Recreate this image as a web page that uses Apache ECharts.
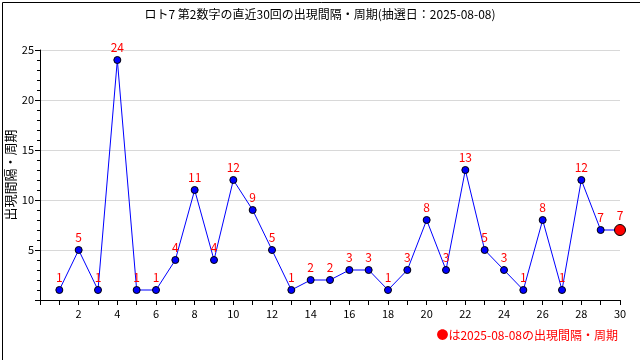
<!DOCTYPE html>
<html><head><meta charset="utf-8">
<script src="https://cdn.jsdelivr.net/npm/echarts@6/dist/echarts.min.js"></script>
<style>html,body{margin:0;padding:0;background:#fff}#c{width:640px;height:360px}</style>
</head><body><div id="c"></div>
<script>
const titleText = 'ロト7 第2数字の直近30回の出現間隔・周期(抽選日：2025-08-08)';
const yName = '出現間隔・周期';
const legendText = '●は2025-08-08の出現間隔・周期';
const draws = [1,2,3,4,5,6,7,8,9,10,11,12,13,14,15,16,17,18,19,20,21,22,23,24,25,26,27,28,29,30];
const intervals = [1,5,1,24,1,1,4,11,4,12,9,5,1,2,2,3,3,1,3,8,3,13,5,3,1,8,1,12,7,7];

const data = draws.map((d,i)=>{
  const last = i === draws.length-1;
  return {value:[d, intervals[i]], symbolSize: last?11:7,
    itemStyle: last?{color:'#ff0000',borderColor:'#000',borderWidth:1}:{color:'#0000ff',borderColor:'#000',borderWidth:1}};
});
const font = '"Noto Sans CJK JP", "DejaVu Sans", sans-serif';
const chart = echarts.init(document.getElementById('c'));
chart.setOption({
  animation:false,
  backgroundColor:'#fff',
  title:{text:titleText,left:'center',top:3,textStyle:{fontSize:12,fontWeight:'normal',color:'#000',fontFamily:font}},
  grid:{left:40,right:20,top:50,bottom:60,containLabel:false,outerBoundsMode:'none'},
  xAxis:{type:'value',min:0,max:30,interval:1,
    axisLine:{lineStyle:{color:'#000'}},
    axisTick:{show:true,length:5,lineStyle:{color:'#000'}},
    axisLabel:{color:'#000',fontSize:11,fontFamily:font,margin:8,formatter:v=>(v%2===0&&v>0)?String(v):''},
    splitLine:{show:false}},
  yAxis:{type:'value',min:0,max:25,interval:5,
    axisLine:{show:true,lineStyle:{color:'#000'}},
    axisTick:{show:true,length:5,lineStyle:{color:'#000'}},
    minorTick:{show:true,splitNumber:5,length:3,lineStyle:{color:'#000'}},
    axisLabel:{color:'#000',fontSize:11,fontFamily:font,margin:6,formatter:v=>v===0?'':String(v)},
    splitLine:{show:true,lineStyle:{color:'#d8d8d8'}}},
  series:[{type:'line',data:data,symbol:'circle',
    lineStyle:{color:'#0000ff',width:1},
    label:{show:true,position:'top',distance:3,color:'#ff0000',fontSize:12,fontFamily:font,formatter:p=>String(p.value[1])}}],
  graphic:[
    {type:'rect',left:0,top:0,shape:{x:0.5,y:0.5,width:639,height:359},style:{fill:'none',stroke:'#000',lineWidth:1},silent:true},
    {type:'text',x:10,y:175,rotation:Math.PI/2,style:{text:yName,fill:'#000',fontSize:13,fontFamily:font,align:'center',verticalAlign:'middle'}},
    {type:'text',right:22,top:329,style:{text:legendText,fill:'#ff0000',fontSize:12,fontFamily:font}}
  ]
});
</script></body></html>
